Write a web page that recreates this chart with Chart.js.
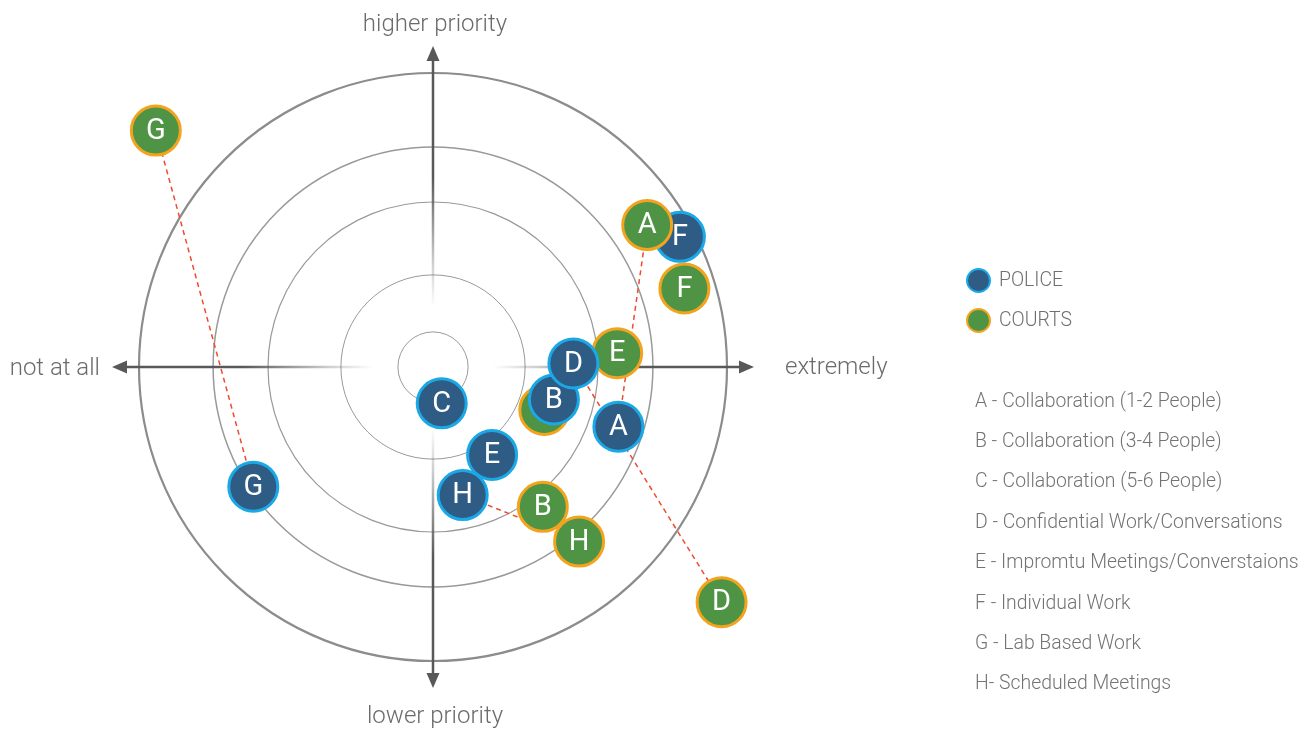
<!DOCTYPE html>
<html>
<head>
<meta charset="utf-8">
<title>Space priorities - Police vs Courts</title>
<script src="https://cdn.jsdelivr.net/npm/chart.js@4.4.0/dist/chart.umd.min.js"></script>
<style>
  html, body { margin: 0; padding: 0; background: #fff; }
  #wrap { position: relative; width: 1314px; height: 732px; font-family: Roboto, "Noto Sans", sans-serif; font-weight: 300; }
  #wrap canvas { position: absolute; left: 0; top: 0; }
  .legend { position: absolute; left: 965px; top: 260px; font-size: 19.4px; line-height: 40px; color: #6f6f6f; }
  .legend div { position: relative; padding-left: 34px; }
  .legend .dot { position: absolute; left: 0.5px; top: 7.5px; width: 25px; height: 25px; border-radius: 50%; box-sizing: border-box; border: 2px solid; }
  .keys { position: absolute; left: 975px; top: 380.5px; font-size: 19.4px; line-height: 40.4px; color: #737373; margin: 0; padding: 0; list-style: none; white-space: nowrap; }
</style>
</head>
<body>
<div id="wrap">
  <canvas id="priorityChart" width="1314" height="732"></canvas>
  <div class="legend" id="legend"></div>
  <ul class="keys" id="keys"></ul>
</div>
<script>
// values (centre of the target = 0,0)
const pointLabels = ['A', 'B', 'C', 'D', 'E', 'F', 'G', 'H'];
const policeX = [6.18, 4.03, 0.29, 4.68, 1.97, 8.23, -5.99, 0.99];
const policeY = [-1.99, -1.08, -1.21, 0.12, -2.93, 4.34, -3.99, -4.27];
const courtsX = [7.14, 3.66, 3.71, 9.62, 6.14, 8.38, -9.24, 4.87];
const courtsY = [4.73, -4.66, -1.43, -7.84, 0.46, 2.62, 7.88, -5.82];
const ringRadii = [1.17, 3.07, 5.5, 7.33, 9.8];
const linkedLabels = ['A', 'D', 'G', 'H'];
const courtsOnTop = ['A'];
const seriesNames = ['POLICE', 'COURTS'];
const axisTitles = ['higher priority', 'lower priority', 'not at all', 'extremely'];
const activityNames = [
  'A - Collaboration (1-2 People)',
  'B - Collaboration (3-4 People)',
  'C - Collaboration (5-6 People)',
  'D - Confidential Work/Conversations',
  'E - Impromtu Meetings/Converstaions',
  'F - Individual Work',
  'G - Lab Based Work',
  'H- Scheduled Meetings'
];

const policeStyle = { fill: '#2f5c84', border: '#1aa8e6' };
const courtsStyle = { fill: '#4e9444', border: '#f3a41f' };

// legend and key on the right
const legend = document.getElementById('legend');
[policeStyle, courtsStyle].forEach((s, i) => {
  const row = document.createElement('div');
  row.innerHTML = '<span class="dot" style="background:' + s.fill + ';border-color:' + s.border + '"></span>' + seriesNames[i];
  legend.appendChild(row);
});
const keys = document.getElementById('keys');
activityNames.forEach(t => {
  const li = document.createElement('li');
  li.textContent = t;
  keys.appendChild(li);
});

function points(xs, ys, keep) {
  const out = [];
  xs.forEach((x, i) => {
    if (!keep || keep(pointLabels[i])) out.push({ x: x, y: ys[i], label: pointLabels[i] });
  });
  return out;
}

function dotDataset(name, data, style, order) {
  return {
    label: name,
    data: data,
    order: order,
    clip: false,
    pointRadius: 24.5,
    pointHoverRadius: 24.5,
    pointBorderWidth: 3,
    pointHoverBorderWidth: 3,
    backgroundColor: style.fill,
    borderColor: style.border,
    showLine: false
  };
}

// draws rings, axes, titles and dashed links underneath the dots
const backdrop = {
  id: 'backdrop',
  beforeDatasetsDraw(chart) {
    const ctx = chart.ctx;
    const xs = chart.scales.x, ys = chart.scales.y;
    const cx = xs.getPixelForValue(0), cy = ys.getPixelForValue(0);
    const unit = xs.getPixelForValue(1) - cx;
    if (!isFinite(unit) || unit <= 0) return;
    ctx.save();

    ringRadii.forEach((r, i) => {
      ctx.beginPath();
      ctx.arc(cx, cy, r * unit, 0, Math.PI * 2);
      ctx.strokeStyle = i === ringRadii.length - 1 ? '#8c8c8c' : '#999';
      ctx.lineWidth = [1, 1, 1.2, 1.5, 2.2][i];
      ctx.stroke();
    });

    const ext = 10.7 * unit;
    const tips = [[cx, cy - ext], [cx, cy + ext], [cx - ext, cy], [cx + ext, cy]];
    tips.forEach(([tx, ty]) => {
      const L = Math.hypot(tx - cx, ty - cy);
      const dx = (tx - cx) / L, dy = (ty - cy) / L;
      const head = 15;
      const g = ctx.createLinearGradient(cx, cy, tx, ty);
      g.addColorStop(0, 'rgba(88,88,88,0)');
      g.addColorStop(Math.min(1, 60 / L), 'rgba(88,88,88,0)');
      g.addColorStop(Math.min(1, 105 / L), 'rgba(88,88,88,0.3)');
      g.addColorStop(Math.min(1, 190 / L), 'rgba(88,88,88,1)');
      g.addColorStop(1, 'rgba(88,88,88,1)');
      ctx.beginPath();
      ctx.moveTo(cx, cy);
      ctx.lineTo(tx - dx * head, ty - dy * head);
      ctx.strokeStyle = g;
      ctx.lineWidth = 2.5;
      ctx.stroke();
      ctx.beginPath();
      ctx.moveTo(tx, ty);
      ctx.lineTo(tx - dx * head - dy * 6.5, ty - dy * head + dx * 6.5);
      ctx.lineTo(tx - dx * head + dy * 6.5, ty - dy * head - dx * 6.5);
      ctx.closePath();
      ctx.fillStyle = '#585858';
      ctx.fill();
    });

    ctx.fillStyle = '#6b6b6b';
    ctx.font = '300 24px Roboto, "Noto Sans", sans-serif';
    ctx.textBaseline = 'middle';
    ctx.textAlign = 'center';
    ctx.fillText(axisTitles[0], cx + 2, cy - ext - 21);
    ctx.fillText(axisTitles[1], cx + 2, cy + ext + 29);
    ctx.textAlign = 'right';
    ctx.fillText(axisTitles[2], cx - ext - 12, cy + 2);
    ctx.textAlign = 'left';
    ctx.fillText(axisTitles[3], cx + ext + 31, cy + 1);

    ctx.setLineDash([5, 4]);
    ctx.strokeStyle = '#ef4b2e';
    ctx.lineWidth = 1.5;
    linkedLabels.forEach(l => {
      const i = pointLabels.indexOf(l);
      ctx.beginPath();
      ctx.moveTo(xs.getPixelForValue(policeX[i]), ys.getPixelForValue(policeY[i]));
      ctx.lineTo(xs.getPixelForValue(courtsX[i]), ys.getPixelForValue(courtsY[i]));
      ctx.stroke();
    });
    ctx.restore();
  },
  // letters go on right after each layer so later layers can cover them
  afterDatasetDraw(chart, args) {
    const ctx = chart.ctx;
    const ds = chart.data.datasets[args.index];
    ctx.save();
    ctx.fillStyle = '#fff';
    ctx.font = '400 29px Roboto, "Noto Sans", sans-serif';
    ctx.textAlign = 'center';
    ctx.textBaseline = 'middle';
    args.meta.data.forEach((pt, i) => {
      ctx.fillText(ds.data[i].label, pt.x, pt.y + 1);
    });
    ctx.restore();
  }
};

new Chart(document.getElementById('priorityChart'), {
  type: 'scatter',
  data: {
    datasets: [
      dotDataset('COURTS', points(courtsX, courtsY, l => !courtsOnTop.includes(l)), courtsStyle, 3),
      dotDataset('POLICE', points(policeX, policeY), policeStyle, 2),
      dotDataset('COURTS ', points(courtsX, courtsY, l => courtsOnTop.includes(l)), courtsStyle, 1)
    ]
  },
  options: {
    responsive: false,
    animation: false,
    events: [],
    layout: { padding: { left: 103, right: 551, top: 37, bottom: 35 } },
    scales: {
      x: { type: 'linear', min: -11, max: 11, display: false },
      y: { type: 'linear', min: -11, max: 11, display: false }
    },
    plugins: {
      legend: { display: false },
      tooltip: { enabled: false }
    }
  },
  plugins: [backdrop]
});
</script>
</body>
</html>
